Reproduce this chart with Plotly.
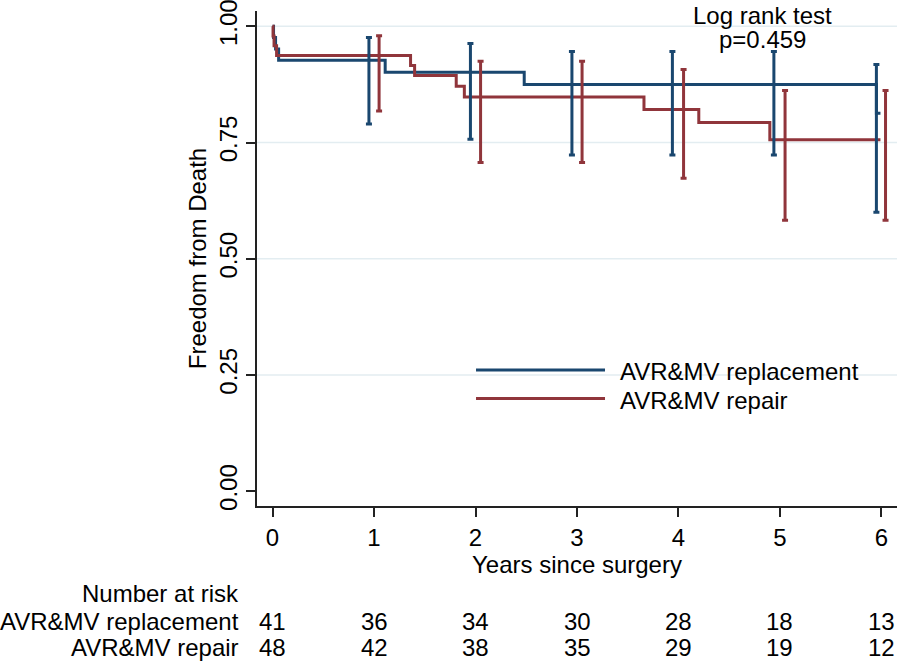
import plotly.graph_objects as go

# ---------------- data ----------------
years = [0, 1, 2, 3, 4, 5, 6]
y_ticks = [0.0, 0.25, 0.50, 0.75, 1.0]
y_tick_text = ["0.00", "0.25", "0.50", "0.75", "1.00"]

group_names = ["AVR&MV replacement", "AVR&MV repair"]
risk_replacement = [41, 36, 34, 30, 28, 18, 13]
risk_repair = [48, 42, 38, 35, 29, 19, 12]

repl_time = [0, 0.01, 0.03, 0.06, 1.11, 2.48, 5.95, 5.99]
repl_surv = [1.0, 0.976, 0.951, 0.927, 0.901, 0.875, 0.813, 0.813]
repair_time = [0, 0.005, 0.015, 0.04, 1.36, 1.40, 1.81, 1.89, 3.66, 4.20, 4.90, 5.99]
repair_surv = [1.0, 0.979, 0.958, 0.9375, 0.916, 0.894, 0.871, 0.848, 0.821, 0.793, 0.756, 0.756]

repl_ci_time = [0.95, 1.95, 2.95, 3.94, 4.94, 5.95]
repl_ci_upper = [0.976, 0.963, 0.946, 0.946, 0.946, 0.918]
repl_ci_lower = [0.790, 0.757, 0.723, 0.723, 0.723, 0.600]
repair_ci_time = [1.05, 2.05, 3.05, 4.05, 5.05, 6.04]
repair_ci_upper = [0.980, 0.925, 0.925, 0.907, 0.862, 0.862]
repair_ci_lower = [0.818, 0.707, 0.707, 0.673, 0.583, 0.583]

# ---------------- style ----------------
BLUE = "#1a476f"
RED = "#90353b"
FONT = "Liberation Sans, Arial, sans-serif"
FS = 24
W, H = 897, 662
ML, MR, MT, MB = 257, 0, 7, 156
X_RANGE = [-0.153, 6.153]
Y_RANGE = [-0.032, 1.033]

plot_h = H - MT - MB
plot_w = W - ML - MR


def py_to_paper(py):
    return (H - MB - py) / plot_h


def px_to_paper(px):
    return (px - ML) / plot_w


fig = go.Figure()

fig.add_trace(go.Scatter(x=repl_time, y=repl_surv, mode="lines", line_shape="hv",
                         line=dict(color=BLUE, width=3), name=group_names[0], showlegend=False))
fig.add_trace(go.Scatter(x=repair_time, y=repair_surv, mode="lines", line_shape="hv",
                         line=dict(color=RED, width=3), name=group_names[1], showlegend=False))


def ci_trace(t, lo, hi, color):
    mid = [(a + b) / 2 for a, b in zip(lo, hi)]
    half = [(b - a) / 2 for a, b in zip(lo, hi)]
    return go.Scatter(x=t, y=mid, mode="markers",
                      marker=dict(size=1, color="rgba(0,0,0,0)"),
                      error_y=dict(type="data", symmetric=True, array=half,
                                   color=color, thickness=3, width=3),
                      showlegend=False, hoverinfo="skip")


fig.add_trace(ci_trace(repl_ci_time, repl_ci_lower, repl_ci_upper, BLUE))
fig.add_trace(ci_trace(repair_ci_time, repair_ci_lower, repair_ci_upper, RED))

shapes = []
for v in y_ticks[1:]:
    shapes.append(dict(type="line", xref="paper", x0=0, x1=1, yref="y", y0=v, y1=v,
                       line=dict(color="#e3edf1", width=1.5), layer="below"))

# legend (drawn manually)
leg_y = [0.2606, 0.1994]
for name, col, yy in zip(group_names, [BLUE, RED], leg_y):
    shapes.append(dict(type="line", xref="x", yref="y", x0=2.005, x1=3.276, y0=yy, y1=yy,
                       line=dict(color=col, width=3)))

tf = dict(size=FS, color="black", family=FONT)
annotations = []
for name, yy in zip(group_names, leg_y):
    annotations.append(dict(x=3.40, y=yy - 0.004, xref="x", yref="y", text=name, showarrow=False,
                            xanchor="left", yanchor="middle", font=tf))

annotations.append(dict(x=4.83, y=1.023, xref="x", yref="y", text="Log rank test", showarrow=False,
                        xanchor="center", yanchor="middle", font=tf))
annotations.append(dict(x=4.83, y=0.972, xref="x", yref="y", text="p=0.459", showarrow=False,
                        xanchor="center", yanchor="middle", font=tf))

# number at risk table
annotations.append(dict(x=px_to_paper(241), y=py_to_paper(594), xref="paper", yref="paper",
                        text="Number at risk", showarrow=False, xanchor="right", yanchor="middle", font=tf))
for row_py, name, counts in [(622, group_names[0], risk_replacement), (649, group_names[1], risk_repair)]:
    annotations.append(dict(x=px_to_paper(241), y=py_to_paper(row_py), xref="paper", yref="paper",
                            text=name, showarrow=False, xanchor="right", yanchor="middle", font=tf))
    for yr, c in zip(years, counts):
        annotations.append(dict(x=yr, y=py_to_paper(row_py), xref="x", yref="paper", text=str(c),
                                showarrow=False, xanchor="center", yanchor="middle", font=tf))

fig.update_layout(
    width=W, height=H,
    margin=dict(l=ML, r=MR, t=MT, b=MB, pad=0),
    plot_bgcolor="white", paper_bgcolor="white",
    font=dict(family=FONT, size=FS, color="black"),
    shapes=shapes, annotations=annotations,
    showlegend=False,
    xaxis=dict(range=X_RANGE, tickvals=years, ticks="outside", ticklen=9, tickwidth=1.5,
               tickcolor="#222", showline=True, linecolor="#222", linewidth=1.5,
               showgrid=False, zeroline=False, ticklabeloverflow="allow",
               title=dict(text="Years since surgery", standoff=4, font=dict(size=FS)),
               tickfont=dict(size=FS)),
    yaxis=dict(range=Y_RANGE, tickvals=y_ticks, ticktext=y_tick_text, ticks="outside", ticklen=9,
               tickwidth=1.5, tickcolor="#222", showline=True, linecolor="#222", linewidth=1.5,
               showgrid=False, zeroline=False, tickangle=-90, ticklabeloverflow="allow",
               title=dict(text="Freedom from Death", standoff=1, font=dict(size=FS)),
               tickfont=dict(size=FS)),
)

fig.write_html("out.html", config={"displayModeBar": False},
               post_script="document.body.style.margin='0';document.body.style.overflow='hidden';")
